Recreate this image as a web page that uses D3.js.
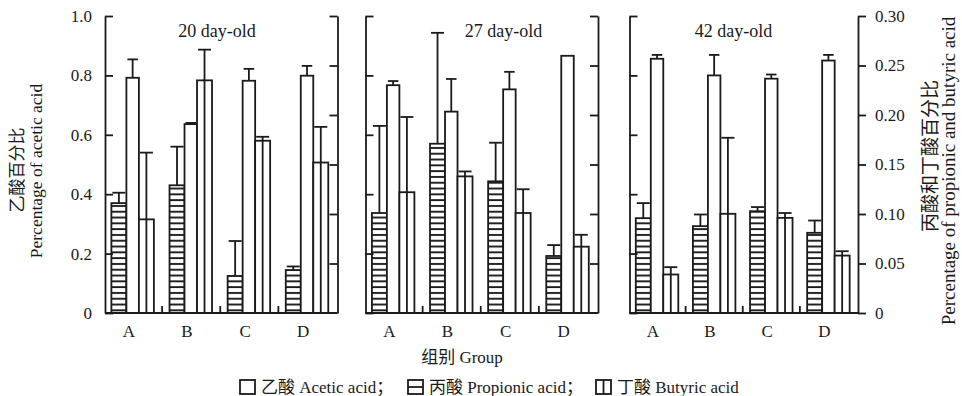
<!DOCTYPE html>
<html>
<head>
<meta charset="utf-8">
<script src="https://cdn.jsdelivr.net/npm/d3@7"></script>
<style>
  body { margin: 0; background: #fff; }
</style>
</head>
<body>
<svg id="chart" width="962" height="396"></svg>
<script>
// groups and panels
const groups = ['A', 'B', 'C', 'D'];
const panelTitles = ['20 day-old', '27 day-old', '42 day-old'];

// acetic acid, left axis (0-1)
const aceticMean = [
  [0.792, 0.636, 0.782, 0.799],
  [0.767, 0.678, 0.753, 0.866],
  [0.856, 0.800, 0.789, 0.850],
];
const aceticErr = [
  [0.062, 0.004, 0.040, 0.033],
  [0.014, 0.110, 0.059, 0],
  [0.013, 0.069, 0.014, 0.019],
];

// propionic acid, right axis (0-0.30)
const propionicMean = [
  [0.111, 0.129, 0.0374, 0.0434],
  [0.101, 0.171, 0.133, 0.0576],
  [0.0958, 0.0877, 0.1028, 0.081],
];
const propionicErr = [
  [0.0105, 0.039, 0.0353, 0.0036],
  [0.088, 0.112, 0.039, 0.011],
  [0.0152, 0.0118, 0.0042, 0.0124],
];

// butyric acid, right axis (0-0.30)
const butyricMean = [
  [0.0946, 0.235, 0.174, 0.152],
  [0.122, 0.138, 0.101, 0.067],
  [0.0389, 0.1002, 0.0961, 0.058],
];
const butyricErr = [
  [0.0674, 0.031, 0.004, 0.036],
  [0.076, 0.005, 0.024, 0.012],
  [0.0074, 0.0768, 0.0049, 0.0044],
];

const leftTicks = [0, 0.2, 0.4, 0.6, 0.8, 1.0];
const rightTicks = [0, 0.05, 0.10, 0.15, 0.20, 0.25, 0.30];

// layout
const panelX = [[105, 337.5], [365.5, 598], [629.5, 858]];
const titleDx = [112, 138, 104];
const y0 = 313, y1 = 16;
const ink = '#1a1a1a';
const sw = 1.8;
const FONT = '"Liberation Serif", "Times New Roman", "Noto Sans CJK SC", serif';

const svg = d3.select('#chart');

const yLeft = d3.scaleLinear().domain([0, 1]).range([y0, y1]);
const yRight = d3.scaleLinear().domain([0, 0.3]).range([y0, y1]);

function label(sel, size) {
  return sel.style('font-family', FONT).attr('font-size', size).attr('fill', ink);
}

// horizontal stripe pattern for propionic acid
svg.append('defs').append('pattern')
  .attr('id', 'hstripe')
  .attr('patternUnits', 'userSpaceOnUse')
  .attr('width', 6).attr('height', 5.8)
  .call(p => {
    p.append('rect').attr('width', 6).attr('height', 5.8).attr('fill', '#fff');
    p.append('rect').attr('y', 2).attr('width', 6).attr('height', 1.9).attr('fill', ink);
  });

const barW = [15, 12.5, 15]; // propionic, acetic, butyric

panelX.forEach(([x0, x1], pi) => {
  const g = svg.append('g');
  const x = d3.scaleBand().domain(groups).range([x0, x1]);
  const bw = x.bandwidth();

  const series = [
    { mean: propionicMean[pi], err: propionicErr[pi], y: yRight, kind: 'prop' },
    { mean: aceticMean[pi], err: aceticErr[pi], y: yLeft, kind: 'acet' },
    { mean: butyricMean[pi], err: butyricErr[pi], y: yRight, kind: 'but' },
  ];

  groups.forEach((grp, gi) => {
    let bx = x(grp) + bw * 0.11;
    series.forEach((s, si) => {
      const w = barW[si];
      const top = s.y(s.mean[gi]);
      g.append('rect')
        .attr('x', bx).attr('y', top)
        .attr('width', w).attr('height', y0 - top)
        .attr('fill', s.kind === 'prop' ? 'url(#hstripe)' : '#fff')
        .attr('stroke', ink).attr('stroke-width', sw);
      if (s.kind === 'but') {
        g.append('line')
          .attr('x1', bx + w / 2).attr('x2', bx + w / 2)
          .attr('y1', top).attr('y2', y0)
          .attr('stroke', ink).attr('stroke-width', sw);
      }
      if (s.err[gi] > 0) {
        const et = s.y(s.mean[gi] + s.err[gi]);
        const cx = bx + w / 2;
        g.append('line')
          .attr('x1', cx).attr('x2', cx).attr('y1', top).attr('y2', et)
          .attr('stroke', ink).attr('stroke-width', sw);
        g.append('line')
          .attr('x1', cx - w / 2 + 1).attr('x2', cx + w / 2 - 1).attr('y1', et).attr('y2', et)
          .attr('stroke', ink).attr('stroke-width', sw);
      }
      bx += w;
    });
  });

  // left axis, ticks inward
  const la = d3.axisLeft(yLeft).tickValues(leftTicks).tickSizeInner(-8).tickSizeOuter(0).tickPadding(13)
    .tickFormat(d => pi === 0 ? (d === 0 ? '0' : d.toFixed(1)) : '');
  const lg = g.append('g').attr('transform', `translate(${x0},0)`).call(la);

  // right axis
  const ra = pi === 2
    ? d3.axisRight(yRight).tickValues(rightTicks).tickSizeInner(8).tickSizeOuter(0).tickPadding(9)
        .tickFormat(d => d === 0 ? '0' : d.toFixed(2))
    : d3.axisRight(yRight).tickValues(rightTicks.slice(1)).tickSizeInner(-8).tickSizeOuter(0).tickFormat('');
  const rg = g.append('g').attr('transform', `translate(${x1},0)`).call(ra);

  [lg, rg].forEach(a => {
    a.select('.domain').attr('stroke', ink).attr('stroke-width', sw);
    a.selectAll('.tick line').attr('stroke', ink).attr('stroke-width', sw);
    label(a.selectAll('.tick text'), 17);
  });

  // bottom axis
  g.append('line')
    .attr('x1', x0).attr('x2', x1).attr('y1', y0).attr('y2', y0)
    .attr('stroke', ink).attr('stroke-width', sw);
  groups.slice(1).forEach(grp => {
    g.append('line')
      .attr('x1', x(grp) - 1).attr('x2', x(grp) - 1).attr('y1', y0).attr('y2', y0 - 7)
      .attr('stroke', ink).attr('stroke-width', sw);
  });
  groups.forEach(grp => {
    label(g.append('text'), 17)
      .attr('x', x(grp) + bw * 0.41).attr('y', y0 + 18)
      .attr('text-anchor', 'middle').attr('dominant-baseline', 'central')
      .text(grp);
  });

  // panel title
  label(g.append('text'), 18)
    .attr('x', x0 + titleDx[pi]).attr('y', 31)
    .attr('text-anchor', 'middle').attr('dominant-baseline', 'central')
    .text(panelTitles[pi]);
});

// axis titles
label(svg.append('text'), 17)
  .attr('transform', 'translate(17.5,170) rotate(-90)')
  .attr('text-anchor', 'middle').attr('dominant-baseline', 'central')
  .text('乙酸百分比');
label(svg.append('text'), 17.5)
  .attr('transform', 'translate(42,171) rotate(-90)')
  .attr('text-anchor', 'middle')
  .text('Percentage of acetic acid');
label(svg.append('text'), 19)
  .attr('transform', 'translate(930,156) rotate(-90)')
  .attr('text-anchor', 'middle').attr('dominant-baseline', 'central')
  .text('丙酸和丁酸百分比');
label(svg.append('text'), 19)
  .attr('transform', 'translate(955,171) rotate(-90)')
  .attr('text-anchor', 'middle')
  .text('Percentage of propionic and butyric acid');

label(svg.append('text'), 17)
  .attr('x', 462).attr('y', 357)
  .attr('text-anchor', 'middle').attr('dominant-baseline', 'central')
  .text('组别 Group');

// legend
const legendItems = [
  { label: '乙酸 Acetic acid；', kind: 'acet', x: 240 },
  { label: '丙酸 Propionic acid；', kind: 'prop', x: 408 },
  { label: '丁酸 Butyric acid', kind: 'but', x: 596 },
];
legendItems.forEach(it => {
  const lg = svg.append('g').attr('transform', `translate(${it.x},380)`);
  lg.append('rect').attr('width', 15).attr('height', 14)
    .attr('fill', '#fff').attr('stroke', ink).attr('stroke-width', sw);
  if (it.kind === 'prop') {
    lg.append('line').attr('x1', 0).attr('x2', 15).attr('y1', 7).attr('y2', 7)
      .attr('stroke', ink).attr('stroke-width', sw);
  }
  if (it.kind === 'but') {
    lg.append('line').attr('x1', 7.5).attr('x2', 7.5).attr('y1', 0).attr('y2', 14)
      .attr('stroke', ink).attr('stroke-width', sw);
  }
  label(lg.append('text'), 17)
    .attr('x', 21).attr('y', 7)
    .attr('dominant-baseline', 'central')
    .text(it.label);
});
</script>
</body>
</html>
